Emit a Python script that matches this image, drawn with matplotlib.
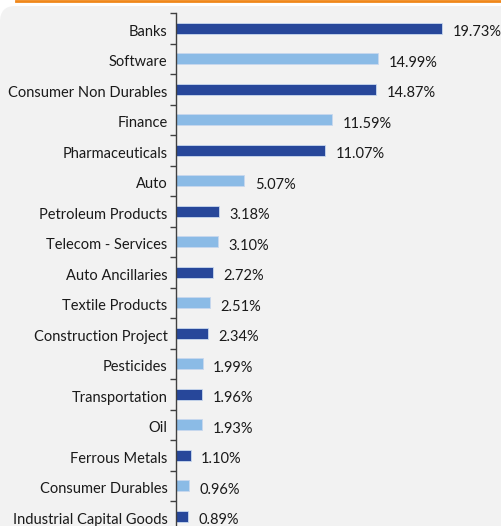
import matplotlib
matplotlib.use('Agg')
from matplotlib import pyplot as plt
from matplotlib.patches import FancyBboxPatch
from matplotlib.lines import Line2D
from matplotlib.transforms import ScaledTranslation

sectors = ['Banks', 'Software', 'Consumer Non Durables', 'Finance',
           'Pharmaceuticals', 'Auto', 'Petroleum Products',
           'Telecom - Services', 'Auto Ancillaries', 'Textile Products',
           'Construction Project', 'Pesticides', 'Transportation', 'Oil',
           'Ferrous Metals', 'Consumer Durables', 'Industrial Capital Goods']
weights = [19.73, 14.99, 14.87, 11.59, 11.07, 5.07, 3.18, 3.10, 2.72,
           2.51, 2.34, 1.99, 1.96, 1.93, 1.10, 0.96, 0.89]

dark_blue = '#27479a'
light_blue = '#8bbbe6'
panel = '#f2f2f2'

plt.rcParams['font.family'] = ['Lato', 'DejaVu Sans']

W, H = 502, 526
fig = plt.figure(figsize=(W / 100, H / 100), dpi=100)
fig.patch.set_facecolor('white')

# grey rounded panel and orange rule along the top
fig.patches.append(FancyBboxPatch((0, -0.05), 1.05, (H - 6) / H + 0.05,
                                  boxstyle='round,pad=0,rounding_size=0.03',
                                  transform=fig.transFigure, facecolor=panel,
                                  edgecolor='none', zorder=-10))
fig.lines.append(Line2D([16 / W, 1], [1 - 1 / H, 1 - 1 / H],
                        transform=fig.transFigure, color='#f0871a', lw=2))

px = 13.48  # pixels per percent
x0 = 176
xmax = (W - x0) / px
spacing = 30.5
n = len(sectors)
top = 13
ax = fig.add_axes([x0 / W, 1 - (top + n * spacing) / H,
                   (W - x0) / W, n * spacing / H])
ax.set_facecolor('none')

ypos = list(range(n))
colors = [dark_blue if i % 2 == 0 else light_blue for i in range(n)]
ax.barh(ypos, weights, height=0.37, color=colors, edgecolor='#c8d8ee',
        linewidth=0.6)
ax.set_xlim(0, xmax)
ax.set_ylim(n - 0.5, -0.5)

for i, v in enumerate(weights):
    ax.annotate('%.2f%%' % v, (v, i), xytext=(7.5, -3),
                textcoords='offset points', va='center', ha='left',
                fontsize=10.5, color='#1a1a1a')

ax.set_yticks(ypos)
ax.set_yticklabels(sectors, fontsize=10.5, color='#1a1a1a')
ax.tick_params(axis='y', length=0, pad=6)
shift = ScaledTranslation(0, -1.5 / 72, fig.dpi_scale_trans)
for lab in ax.get_yticklabels():
    lab.set_transform(lab.get_transform() + shift)
ax.set_yticks([i - 0.5 for i in range(n + 1)], minor=True)
ax.tick_params(axis='y', which='minor', length=4, width=1, color='#404040')
ax.set_xticks([])

for s in ['top', 'right', 'bottom']:
    ax.spines[s].set_visible(False)
ax.spines['left'].set_color('#404040')
ax.spines['left'].set_linewidth(1)

fig.savefig('out.png', dpi=100)
